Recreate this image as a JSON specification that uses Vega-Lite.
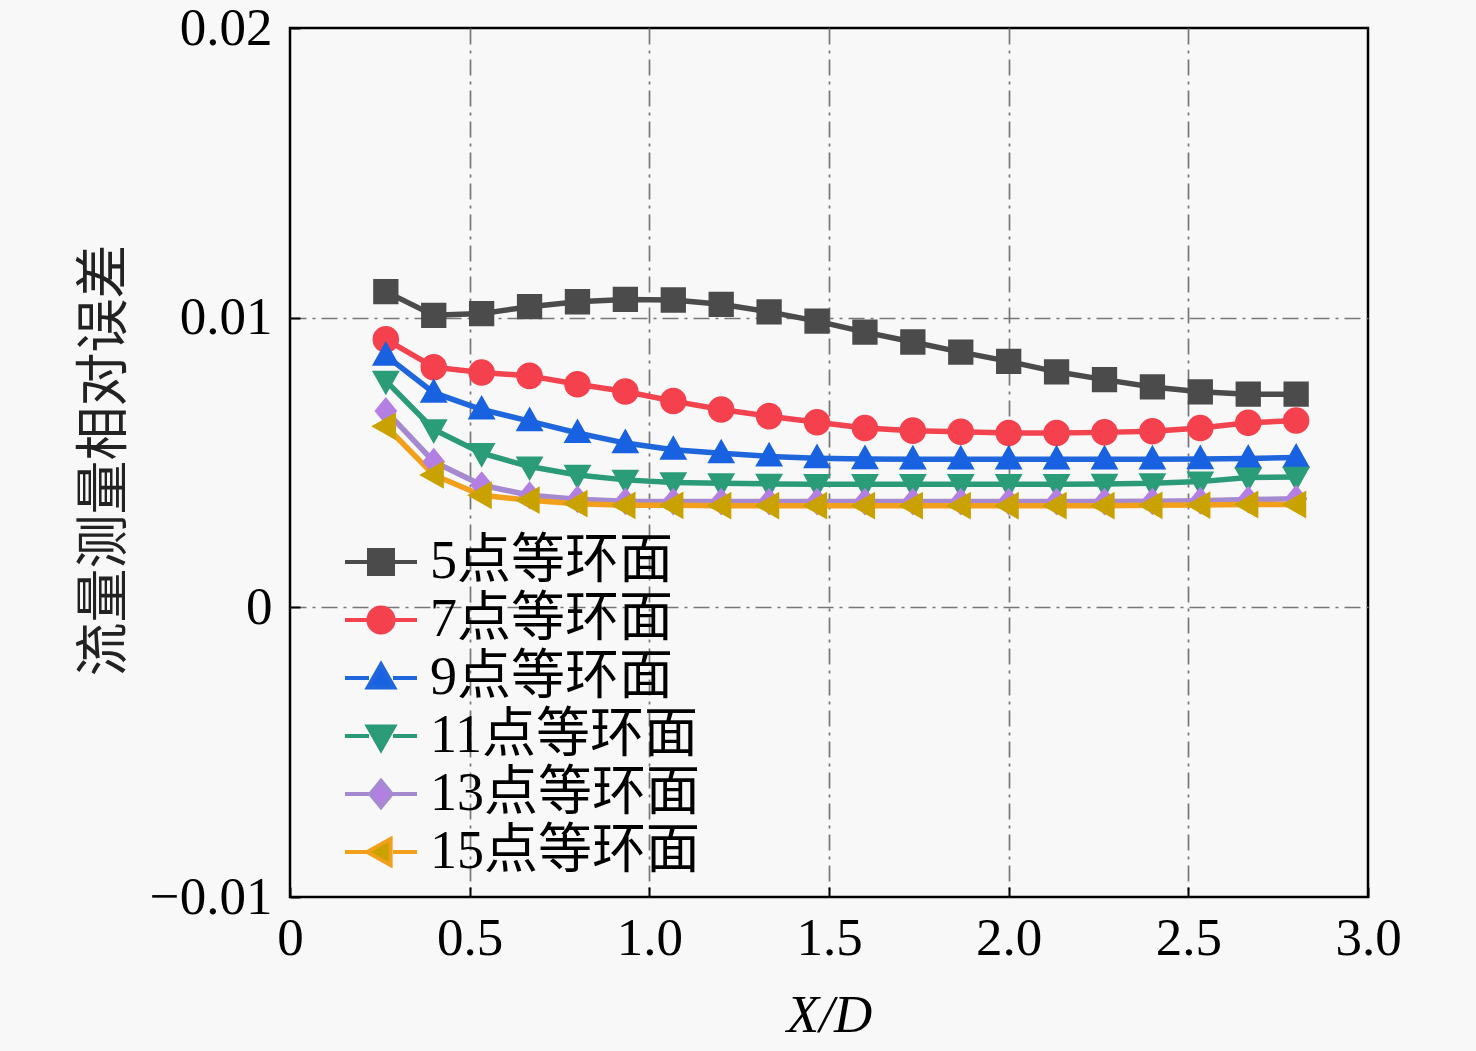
{
  "$schema": "https://vega.github.io/schema/vega-lite/v6.json",
  "width": 1078,
  "height": 869,
  "autosize": {"type": "none"},
  "padding": {"left": 290, "top": 28, "right": 108, "bottom": 154},
  "background": "#f8f8f8",
  "config": {
    "view": {"stroke": "#000000", "strokeWidth": 2.5, "fill": "#f8f8f8"},
    "font": "'Liberation Serif', 'Noto Sans CJK SC'",
    "axis": {
      "domain": false,
      "labelFont": "'Liberation Serif'",
      "labelFontSize": 53,
      "labelColor": "#000000",
      "labelFlush": false,
      "labelOverlap": false,
      "grid": true,
      "gridColor": "#777777",
      "gridWidth": 1.7,
      "gridDash": [16, 6, 3, 6],
      "ticks": true,
      "tickSize": -10,
      "tickWidth": 2,
      "tickColor": "#000000"
    },
    "legend": {
      "orient": "none",
      "legendX": 64,
      "legendY": 507,
      "padding": 0,
      "labelFont": "'Liberation Serif', 'Noto Sans CJK SC'",
      "labelFontSize": 54,
      "labelColor": "#000000",
      "labelOffset": 22,
      "labelLimit": 400,
      "symbolSize": 576,
      "symbolStrokeWidth": 4,
      "rowPadding": 4
    }
  },
  "data": {
    "values": [
      {"series": "5点等环面", "xd": 0.2667, "err": 0.01090},
      {"series": "5点等环面", "xd": 0.4, "err": 0.01008},
      {"series": "5点等环面", "xd": 0.5333, "err": 0.01014},
      {"series": "5点等环面", "xd": 0.6667, "err": 0.01038},
      {"series": "5点等环面", "xd": 0.8, "err": 0.01055},
      {"series": "5点等环面", "xd": 0.9333, "err": 0.01063},
      {"series": "5点等环面", "xd": 1.0667, "err": 0.01061},
      {"series": "5点等环面", "xd": 1.2, "err": 0.01046},
      {"series": "5点等环面", "xd": 1.3333, "err": 0.01020},
      {"series": "5点等环面", "xd": 1.4667, "err": 0.00988},
      {"series": "5点等环面", "xd": 1.6, "err": 0.00950},
      {"series": "5点等环面", "xd": 1.7333, "err": 0.00916},
      {"series": "5点等环面", "xd": 1.8667, "err": 0.00881},
      {"series": "5点等环面", "xd": 2.0, "err": 0.00849},
      {"series": "5点等环面", "xd": 2.1333, "err": 0.00813},
      {"series": "5点等环面", "xd": 2.2667, "err": 0.00786},
      {"series": "5点等环面", "xd": 2.4, "err": 0.00761},
      {"series": "5点等环面", "xd": 2.5333, "err": 0.00744},
      {"series": "5点等环面", "xd": 2.6667, "err": 0.00736},
      {"series": "5点等环面", "xd": 2.8, "err": 0.00736},
      {"series": "7点等环面", "xd": 0.2667, "err": 0.00925},
      {"series": "7点等环面", "xd": 0.4, "err": 0.00829},
      {"series": "7点等环面", "xd": 0.5333, "err": 0.00811},
      {"series": "7点等环面", "xd": 0.6667, "err": 0.00799},
      {"series": "7点等环面", "xd": 0.8, "err": 0.00770},
      {"series": "7点等环面", "xd": 0.9333, "err": 0.00745},
      {"series": "7点等环面", "xd": 1.0667, "err": 0.00712},
      {"series": "7点等环面", "xd": 1.2, "err": 0.00683},
      {"series": "7点等环面", "xd": 1.3333, "err": 0.00660},
      {"series": "7点等环面", "xd": 1.4667, "err": 0.00639},
      {"series": "7点等环面", "xd": 1.6, "err": 0.00619},
      {"series": "7点等环面", "xd": 1.7333, "err": 0.00610},
      {"series": "7点等环面", "xd": 1.8667, "err": 0.00606},
      {"series": "7点等环面", "xd": 2.0, "err": 0.00602},
      {"series": "7点等环面", "xd": 2.1333, "err": 0.00602},
      {"series": "7点等环面", "xd": 2.2667, "err": 0.00604},
      {"series": "7点等环面", "xd": 2.4, "err": 0.00608},
      {"series": "7点等环面", "xd": 2.5333, "err": 0.00619},
      {"series": "7点等环面", "xd": 2.6667, "err": 0.00637},
      {"series": "7点等环面", "xd": 2.8, "err": 0.00645},
      {"series": "9点等环面", "xd": 0.2667, "err": 0.00869},
      {"series": "9点等环面", "xd": 0.4, "err": 0.00741},
      {"series": "9点等环面", "xd": 0.5333, "err": 0.00683},
      {"series": "9点等环面", "xd": 0.6667, "err": 0.00643},
      {"series": "9点等环面", "xd": 0.8, "err": 0.00602},
      {"series": "9点等环面", "xd": 0.9333, "err": 0.00567},
      {"series": "9点等环面", "xd": 1.0667, "err": 0.00544},
      {"series": "9点等环面", "xd": 1.2, "err": 0.00532},
      {"series": "9点等环面", "xd": 1.3333, "err": 0.00521},
      {"series": "9点等环面", "xd": 1.4667, "err": 0.00515},
      {"series": "9点等环面", "xd": 1.6, "err": 0.00512},
      {"series": "9点等环面", "xd": 1.7333, "err": 0.00511},
      {"series": "9点等环面", "xd": 1.8667, "err": 0.00511},
      {"series": "9点等环面", "xd": 2.0, "err": 0.00511},
      {"series": "9点等环面", "xd": 2.1333, "err": 0.00511},
      {"series": "9点等环面", "xd": 2.2667, "err": 0.00511},
      {"series": "9点等环面", "xd": 2.4, "err": 0.00511},
      {"series": "9点等环面", "xd": 2.5333, "err": 0.00512},
      {"series": "9点等环面", "xd": 2.6667, "err": 0.00514},
      {"series": "9点等环面", "xd": 2.8, "err": 0.00517},
      {"series": "11点等环面", "xd": 0.2667, "err": 0.00782},
      {"series": "11点等环面", "xd": 0.4, "err": 0.00614},
      {"series": "11点等环面", "xd": 0.5333, "err": 0.00532},
      {"series": "11点等环面", "xd": 0.6667, "err": 0.00486},
      {"series": "11点等环面", "xd": 0.8, "err": 0.00457},
      {"series": "11点等环面", "xd": 0.9333, "err": 0.00440},
      {"series": "11点等环面", "xd": 1.0667, "err": 0.00431},
      {"series": "11点等环面", "xd": 1.2, "err": 0.00428},
      {"series": "11点等环面", "xd": 1.3333, "err": 0.00426},
      {"series": "11点等环面", "xd": 1.4667, "err": 0.00425},
      {"series": "11点等环面", "xd": 1.6, "err": 0.00425},
      {"series": "11点等环面", "xd": 1.7333, "err": 0.00425},
      {"series": "11点等环面", "xd": 1.8667, "err": 0.00425},
      {"series": "11点等环面", "xd": 2.0, "err": 0.00425},
      {"series": "11点等环面", "xd": 2.1333, "err": 0.00425},
      {"series": "11点等环面", "xd": 2.2667, "err": 0.00426},
      {"series": "11点等环面", "xd": 2.4, "err": 0.00428},
      {"series": "11点等环面", "xd": 2.5333, "err": 0.00434},
      {"series": "11点等环面", "xd": 2.6667, "err": 0.00448},
      {"series": "11点等环面", "xd": 2.8, "err": 0.00450},
      {"series": "13点等环面", "xd": 0.2667, "err": 0.00678},
      {"series": "13点等环面", "xd": 0.4, "err": 0.00503},
      {"series": "13点等环面", "xd": 0.5333, "err": 0.00422},
      {"series": "13点等环面", "xd": 0.6667, "err": 0.00387},
      {"series": "13点等环面", "xd": 0.8, "err": 0.00373},
      {"series": "13点等环面", "xd": 0.9333, "err": 0.00366},
      {"series": "13点等环面", "xd": 1.0667, "err": 0.00365},
      {"series": "13点等环面", "xd": 1.2, "err": 0.00365},
      {"series": "13点等环面", "xd": 1.3333, "err": 0.00365},
      {"series": "13点等环面", "xd": 1.4667, "err": 0.00365},
      {"series": "13点等环面", "xd": 1.6, "err": 0.00365},
      {"series": "13点等环面", "xd": 1.7333, "err": 0.00365},
      {"series": "13点等环面", "xd": 1.8667, "err": 0.00365},
      {"series": "13点等环面", "xd": 2.0, "err": 0.00365},
      {"series": "13点等环面", "xd": 2.1333, "err": 0.00365},
      {"series": "13点等环面", "xd": 2.2667, "err": 0.00365},
      {"series": "13点等环面", "xd": 2.4, "err": 0.00366},
      {"series": "13点等环面", "xd": 2.5333, "err": 0.00368},
      {"series": "13点等环面", "xd": 2.6667, "err": 0.00372},
      {"series": "13点等环面", "xd": 2.8, "err": 0.00375},
      {"series": "15点等环面", "xd": 0.2667, "err": 0.00625},
      {"series": "15点等环面", "xd": 0.4, "err": 0.00457},
      {"series": "15点等环面", "xd": 0.5333, "err": 0.00387},
      {"series": "15点等环面", "xd": 0.6667, "err": 0.00370},
      {"series": "15点等环面", "xd": 0.8, "err": 0.00358},
      {"series": "15点等环面", "xd": 0.9333, "err": 0.00352},
      {"series": "15点等环面", "xd": 1.0667, "err": 0.00352},
      {"series": "15点等环面", "xd": 1.2, "err": 0.00351},
      {"series": "15点等环面", "xd": 1.3333, "err": 0.00351},
      {"series": "15点等环面", "xd": 1.4667, "err": 0.00351},
      {"series": "15点等环面", "xd": 1.6, "err": 0.00351},
      {"series": "15点等环面", "xd": 1.7333, "err": 0.00351},
      {"series": "15点等环面", "xd": 1.8667, "err": 0.00351},
      {"series": "15点等环面", "xd": 2.0, "err": 0.00351},
      {"series": "15点等环面", "xd": 2.1333, "err": 0.00351},
      {"series": "15点等环面", "xd": 2.2667, "err": 0.00351},
      {"series": "15点等环面", "xd": 2.4, "err": 0.00352},
      {"series": "15点等环面", "xd": 2.5333, "err": 0.00353},
      {"series": "15点等环面", "xd": 2.6667, "err": 0.00355},
      {"series": "15点等环面", "xd": 2.8, "err": 0.00355}
    ]
  },
  "encoding": {
    "x": {
      "field": "xd",
      "type": "quantitative",
      "scale": {"domain": [0, 3], "nice": false, "zero": false},
      "axis": {
        "values": [0, 0.5, 1, 1.5, 2, 2.5, 3],
        "labelExpr": "datum.value == 0 ? '0' : format(datum.value, '.1f')",
        "labelPadding": 25,
        "gridOpacity": {"condition": {"test": "datum.value <= 0 || datum.value >= 3", "value": 0}, "value": 1},
        "title": "X/D",
        "titleFont": "'Liberation Serif'",
        "titleFontSize": 53,
        "titleFontStyle": "italic",
        "titleFontWeight": "normal",
        "titleColor": "#000000",
        "titleX": 539,
        "titleY": 118,
        "titleAlign": "center",
        "titleBaseline": "middle"
      }
    },
    "y": {
      "field": "err",
      "type": "quantitative",
      "scale": {"domain": [-0.01, 0.02], "nice": false, "zero": false},
      "axis": {
        "values": [-0.01, 0, 0.01, 0.02],
        "format": ".2~f",
        "labelPadding": 28,
        "gridOpacity": {"condition": {"test": "datum.value <= -0.0099 || datum.value >= 0.0199", "value": 0}, "value": 1},
        "title": "流量测量相对误差",
        "titleFont": "'Noto Sans CJK SC'",
        "titleFontSize": 54,
        "titleFontWeight": "normal",
        "titleColor": "#222222",
        "titleAngle": 270,
        "titleX": -185,
        "titleY": 432,
        "titleAlign": "center",
        "titleBaseline": "middle"
      }
    }
  },
  "layer": [
    {
      "mark": {"type": "line", "strokeWidth": 5.5},
      "encoding": {
        "stroke": {
          "field": "series",
          "type": "nominal",
          "title": null,
          "scale": {
            "domain": ["5点等环面", "7点等环面", "9点等环面", "11点等环面", "13点等环面", "15点等环面"],
            "range": ["#4b4b4b", "#f2434f", "#1f66dd", "#2b9a78", "#a58ad0", "#f2a01c"]
          }
        }
      }
    },
    {
      "mark": {"type": "point", "filled": true, "size": 640, "opacity": 1},
      "encoding": {
        "fill": {
          "field": "series",
          "type": "nominal",
          "title": null,
          "scale": {
            "domain": ["5点等环面", "7点等环面", "9点等环面", "11点等环面", "13点等环面", "15点等环面"],
            "range": ["#4b4b4b", "#f5404e", "#1862e2", "#2a9c78", "#b47fe2", "#c9a200"]
          }
        },
        "shape": {
          "field": "series",
          "type": "nominal",
          "title": null,
          "scale": {
            "domain": ["5点等环面", "7点等环面", "9点等环面", "11点等环面", "13点等环面", "15点等环面"],
            "range": [
              "M-3,0H-1M1,0H3M-1,-1H1V1H-1Z",
              "M-3,0H-1M1,0H3M-1.05,0A1.05,1.05,0,1,1,1.05,0A1.05,1.05,0,1,1,-1.05,0Z",
              "M-3,0H-1M1,0H3M0,-1.15L1.1,0.8H-1.1Z",
              "M-3,0H-1M1,0H3M0,1.15L1.1,-0.8H-1.1Z",
              "M-3,0H-1M1,0H3M0,-1.1L0.9,0L0,1.1L-0.9,0Z",
              "M-3,0H-1M1,0H3M-1.15,0L0.8,-1.1V1.1Z"
            ]
          }
        }
      }
    }
  ]
}
